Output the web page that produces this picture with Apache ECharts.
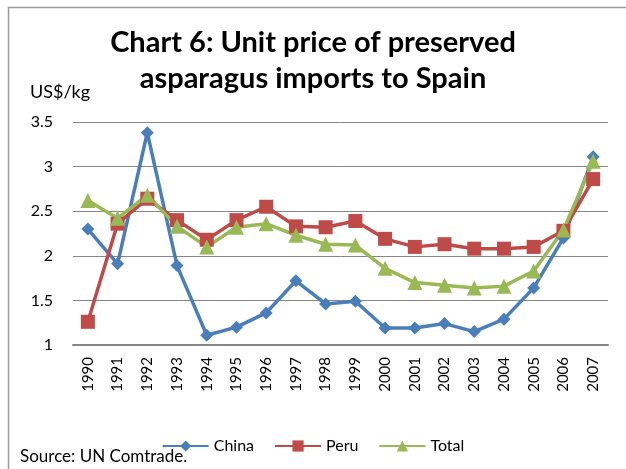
<!DOCTYPE html>
<html>
<head>
<meta charset="utf-8">
<script src="https://cdn.jsdelivr.net/npm/echarts@6/dist/echarts.min.js"></script>
<style>
  html, body { margin: 0; padding: 0; background: #fff; }
  #chart { width: 626px; height: 469px; }
</style>
</head>
<body>
<div id="chart"></div>
<script>
// data
const years = ['1990','1991','1992','1993','1994','1995','1996','1997','1998','1999',
               '2000','2001','2002','2003','2004','2005','2006','2007']
const china = [2.30, 1.91, 3.38, 1.89, 1.11, 1.20, 1.36, 1.72, 1.46, 1.49,
               1.19, 1.19, 1.24, 1.15, 1.29, 1.64, 2.20, 3.11]
const peru  = [1.26, 2.36, 2.64, 2.40, 2.18, 2.40, 2.55, 2.33, 2.32, 2.39,
               2.19, 2.10, 2.13, 2.08, 2.08, 2.10, 2.28, 2.86]
const total = [2.62, 2.42, 2.68, 2.33, 2.10, 2.32, 2.36, 2.23, 2.13, 2.12,
               1.86, 1.70, 1.67, 1.64, 1.66, 1.83, 2.29, 3.06]

const font = 'Lato, "Open Sans", sans-serif'

let my_chart = echarts.init(document.getElementById('chart'))
my_chart.setOption({
    animation: false,
    textStyle: { fontFamily: font, color: '#000' },
    graphic: [
        { // outer frame (only top and left edges are visible)
            type: 'rect',
            shape: { x: 8.5, y: 7.5, width: 700, height: 500 },
            style: { fill: 'none', stroke: '#9a9a9a', lineWidth: 1.5 }
        },
        {
            type: 'text', left: 30, top: 83,
            style: { text: 'US$/kg', font: '18px ' + font, fill: '#000' }
        },
        {
            type: 'text', left: 20, top: 448,
            style: { text: 'Source: UN Comtrade.', font: '17px ' + font, fill: '#000' }
        }
    ],
    title: {
        text: 'Chart 6: Unit price of preserved\nasparagus imports to Spain',
        left: 'center',
        top: 20,
        textStyle: {
            fontFamily: font,
            fontSize: 29,
            fontWeight: 'bold',
            lineHeight: 36,
            color: '#000'
        }
    },
    legend: {
        bottom: 10,
        left: 'center',
        itemWidth: 46,
        itemHeight: 14,
        itemGap: 20,
        textStyle: { fontSize: 16, fontFamily: font, color: '#000' },
        data: ['China', 'Peru', 'Total']
    },
    grid: { left: 73, right: 18, top: 122, bottom: 124 },
    xAxis: {
        type: 'category',
        data: years,
        boundaryGap: true,
        axisLine: { lineStyle: { color: '#868686', width: 2 } },
        axisTick: { show: false },
        axisLabel: { rotate: 90, fontSize: 15, color: '#000', margin: 12, interval: 0 }
    },
    yAxis: {
        type: 'value',
        min: 1,
        max: 3.5,
        interval: 0.5,
        axisLine: { show: false },
        axisTick: { show: false },
        axisLabel: { fontSize: 16, color: '#000', margin: 20, formatter: v => String(v) },
        splitLine: { lineStyle: { color: '#868686', width: 1 } }
    },
    series: [
        {
            name: 'China', type: 'line', data: china,
            symbol: 'diamond', symbolSize: 13,
            lineStyle: { color: '#4a7ebb', width: 3.5 },
            itemStyle: { color: '#4a7ebb' }
        },
        {
            name: 'Peru', type: 'line', data: peru,
            symbol: 'rect', symbolSize: 14,
            lineStyle: { color: '#be4b48', width: 3.5 },
            itemStyle: { color: '#be4b48' }
        },
        {
            name: 'Total', type: 'line', data: total,
            symbol: 'triangle', symbolSize: 15,
            lineStyle: { color: '#98b954', width: 3.5 },
            itemStyle: { color: '#98b954' }
        }
    ]
})
</script>
</body>
</html>
